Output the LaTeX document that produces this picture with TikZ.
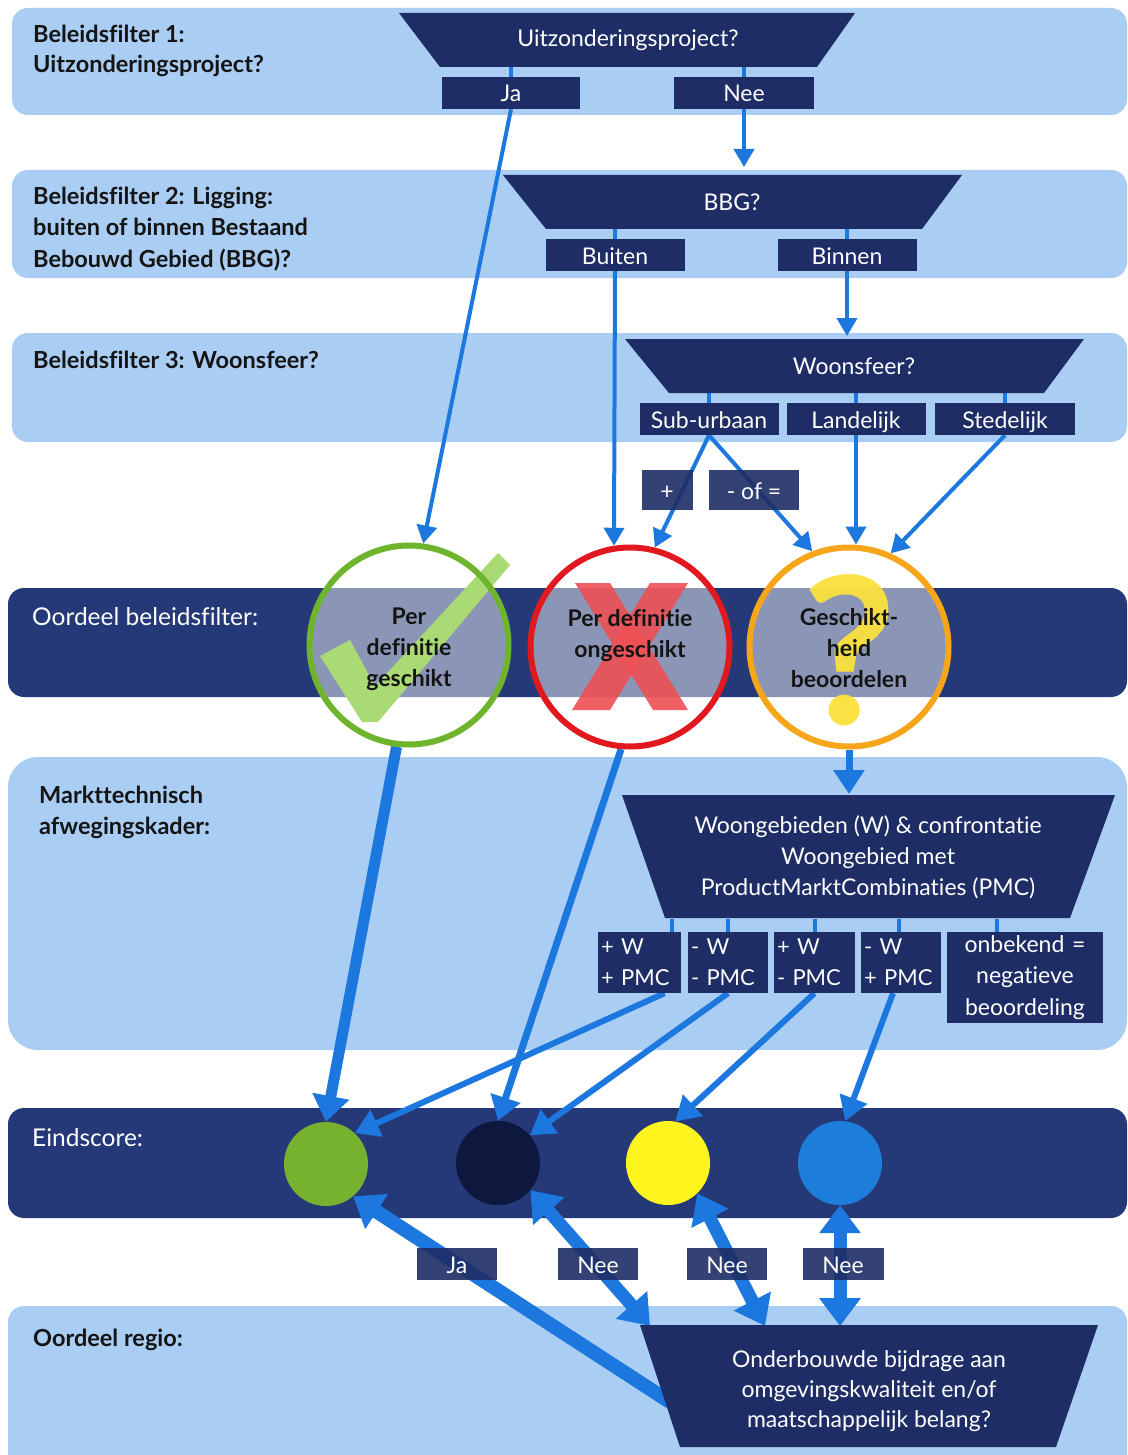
\documentclass[tikz,border=0pt]{standalone}
\usepackage{fontspec}
\setmainfont{Lato}[Ligatures=CommonOff]
\usetikzlibrary{arrows.meta}
\pgfdeclarelayer{bands}
\pgfdeclarelayer{arrows}
\pgfsetlayers{bands,arrows,main}
\definecolor{bandlight}{RGB}{170,205,243}
\definecolor{banddark}{RGB}{37,57,120}
\definecolor{navy}{RGB}{30,45,102}
\definecolor{ablue}{RGB}{28,120,222}
\definecolor{cgreen}{RGB}{110,180,45}
\definecolor{cred}{RGB}{225,25,30}
\definecolor{corange}{RGB}{247,165,25}
\definecolor{chk}{RGB}{170,218,115}
\definecolor{xred}{RGB}{238,80,85}
\definecolor{qyel}{RGB}{250,225,60}
\definecolor{dgreen}{RGB}{118,178,48}
\definecolor{dnavy}{RGB}{14,24,62}
\definecolor{dyellow}{RGB}{255,245,30}
\definecolor{dblue}{RGB}{28,126,218}
\definecolor{txt}{RGB}{20,20,20}
\begin{document}
\begin{tikzpicture}[x=1pt,y=-1pt,
  lbl/.style={anchor=base west, inner sep=0pt, font=\bfseries\fontsize{23.5}{30}\selectfont, text=txt},
  wlbl/.style={anchor=base west, inner sep=0pt, font=\fontsize{24.5}{30}\selectfont, text=white},
  ttext/.style={text=white, font=\fontsize{23}{31}\selectfont, align=center, inner sep=0pt, minimum width=300pt},
  lbox/.style={fill=navy, text=white, font=\fontsize{23}{31}\selectfont, inner sep=0pt, minimum height=32pt, text height=18pt, text depth=0pt},
  seethru/.style={fill opacity=0.9, text opacity=1},
  mbox/.style={fill=navy, text=white, font=\fontsize{22}{31}\selectfont, inner xsep=3pt, inner ysep=0pt, minimum height=61pt, align=left},
  stub/.style={ablue, line width=4pt},
  arrt/.style={ablue, line width=4pt, -{Triangle[length=18pt,width=20pt]}},
  arrm/.style={ablue, line width=6pt, -{Triangle[length=24pt,width=28pt]}},
  arrg/.style={ablue, line width=11pt, -{Triangle[length=26pt,width=36pt]}},
  arrr/.style={ablue, line width=7pt, -{Triangle[length=24pt,width=30pt]}},
  arrk/.style={ablue, line width=14pt, -{Triangle[length=28pt,width=40pt]}},
  darr/.style={ablue, line width=13pt, {Triangle[length=28pt,width=40pt]}-{Triangle[length=28pt,width=40pt]}},
  ring/.style={circle, minimum size=199pt, line width=6pt, inner sep=0pt},
  ctext/.style={align=center, text=txt, inner sep=0pt, font=\bfseries\fontsize{23}{31}\selectfont},
  dot/.style={circle, minimum size=84pt, inner sep=0pt},
]
\useasboundingbox (0,0) rectangle (1127,1455);
% bands
\begin{pgfonlayer}{bands}
\fill[white] (0,0) rectangle (1127,1455);
\fill[bandlight, rounded corners=16pt] (12,8) rectangle (1127,115);
\fill[bandlight, rounded corners=16pt] (12,170) rectangle (1127,278);
\fill[bandlight, rounded corners=16pt] (12,333) rectangle (1127,442);
\fill[banddark, rounded corners=16pt] (8,588) rectangle (1127,697);
\fill[bandlight, rounded corners=30pt] (8,757) rectangle (1127,1050);
\fill[banddark, rounded corners=16pt] (8,1108) rectangle (1127,1218);
\fill[bandlight, rounded corners=16pt] (8,1306) rectangle (1127,1480);
\end{pgfonlayer}

% left labels
\node[lbl] (l1a) at (33,43) {Beleidsfilter 1:};
\node[lbl] (l1b) at (33,73) {Uitzonderingsproject?};
\node[lbl] (l2a) at (33,205) {Beleidsfilter 2: Ligging:};
\node[lbl] (l2b) at (33,236) {buiten of binnen Bestaand};
\node[lbl] (l2c) at (33,267) {Bebouwd Gebied (BBG)?};
\node[lbl] (l3a) at (33,368) {Beleidsfilter 3: Woonsfeer?};
\node[wlbl] (l4) at (32,625) {Oordeel beleidsfilter:};
\node[lbl] (l5a) at (39,803) {Markttechnisch};
\node[lbl] (l5b) at (39,834) {afwegingskader:};
\node[wlbl] (l6) at (32,1146) {Eindscore:};
\node[lbl] (l7) at (33,1346) {Oordeel regio:};

% trapezoids
\fill[navy] (399,13) -- (855,13) -- (817,67) -- (440,67) -- cycle;
\node[ttext, minimum height=54pt] (t1) at (628,40) {Uitzonderingsproject?};
\fill[navy] (503,175) -- (962,175) -- (922,229) -- (546,229) -- cycle;
\node[ttext, minimum height=54pt] (t2) at (732,202) {BBG?};
\fill[navy] (625,339) -- (1084,339) -- (1044,393) -- (669,393) -- cycle;
\node[ttext, minimum height=54pt] (t3) at (854,366) {Woonsfeer?};
\fill[navy] (622,795) -- (1115,795) -- (1070,918) -- (665,918) -- cycle;
\node[ttext, minimum height=123pt] (t4) at (868,857) {Woongebieden (W) \& confrontatie\\Woongebied met\\ProductMarktCombinaties (PMC)};
\fill[navy] (640,1325) -- (1098,1325) -- (1056,1447) -- (680,1447) -- cycle;
\node[ttext, font=\fontsize{23}{30}\selectfont] (t5) at (869,1391) {Onderbouwde bijdrage aan\\omgevingskwaliteit en/of\\maatschappelijk belang?};

% answer boxes
\node[lbox, minimum width=138pt] (ja1) at (511,93) {Ja};
\node[lbox, minimum width=140pt] (nee1) at (744,93) {Nee};
\node[lbox, minimum width=139pt] (buiten) at (615,255) {Buiten};
\node[lbox, minimum width=139pt] (binnen) at (847,255) {Binnen};
\node[lbox, minimum width=139pt] (sub) at (709,419) {Sub-urbaan};
\node[lbox, minimum width=139pt] (land) at (856,419) {Landelijk};
\node[lbox, minimum width=140pt] (sted) at (1005,419) {Stedelijk};
\node[lbox, seethru, minimum width=51pt, minimum height=40pt] (plus) at (667,490) {+};
\node[lbox, seethru, minimum width=90pt, minimum height=40pt] (minof) at (754,490) {- of =};

\node[mbox, text width=77pt] (b1) at (639.5,962.5) {+ W\\+ PMC};
\node[mbox, text width=74pt] (b2) at (728,962.5) {- W\\- PMC};
\node[mbox, text width=75pt] (b3) at (814.5,962.5) {+ W\\- PMC};
\node[mbox, text width=74pt] (b4) at (901,962.5) {- W\\+ PMC};
\node[mbox, align=center, text width=150pt, minimum height=91pt, font=\fontsize{23}{31.5}\selectfont] (b5) at (1025,977.5) {onbekend =\\negatieve\\beoordeling};

\node[lbox, seethru, minimum width=80pt] (bja) at (457,1264) {Ja};
\node[lbox, seethru, minimum width=80pt] (bnee1) at (598,1264) {Nee};
\node[lbox, seethru, minimum width=80pt] (bnee2) at (727,1264) {Nee};
\node[lbox, seethru, minimum width=81pt] (bnee3) at (843,1264) {Nee};

% judgement circles
\fill[white, fill opacity=0.47] (409,645) circle[radius=99pt];
\fill[chk] (320,656) -- (350,640) -- (375,686) -- (498,553) -- (510,565) -- (378,722) -- (362,722) -- cycle;
\node[ring, draw=cgreen] (gc) at (409,645) {};
\node[ctext] (gct) at (409,649) {Per\\definitie\\geschikt};

\fill[white, fill opacity=0.47] (630,647) circle[radius=99pt];
\fill[xred, fill opacity=0.9] (575,583) -- (610,583) -- (688,710) -- (653,710) -- cycle;
\fill[xred, fill opacity=0.9] (650,583) -- (688,583) -- (610,710) -- (572,710) -- cycle;
\node[ring, draw=cred] (rc) at (630,647) {};
\node[ctext] (rct) at (630,636) {Per definitie\\ongeschikt};

\fill[white, fill opacity=0.47] (849,647) circle[radius=99pt];
\node[text=qyel, text opacity=0.95, inner sep=0pt, font=\bfseries\fontsize{205}{205}\selectfont] (qm) at (850,650) {?};
\node[ring, draw=corange] (oc) at (849,647) {};
\node[ctext] (oct) at (849,648) {Geschikt-\\heid\\beoordelen};

% score dots
\node[dot, fill=dgreen] (gd) at (326,1164) {};
\node[dot, fill=dnavy] (nd) at (498,1163) {};
\node[dot, fill=dyellow] (yd) at (668,1163) {};
\node[dot, fill=dblue] (bd) at (840,1163) {};

% free ends
\coordinate (bbgin) at (744,167);
\coordinate (wsin) at (847,336);
\coordinate (t4in) at (849,794);
\coordinate (t5ja) at (670,1402);
\coordinate (t5n1) at (650,1326);
\coordinate (t5n2) at (765,1326);
\coordinate (t5n3) at (840,1326);

\begin{pgfonlayer}{arrows}
% stubs
\draw[stub] (ja1.north) -- (ja1.north |- t1.south);
\draw[stub] (nee1.north) -- (nee1.north |- t1.south);
\draw[stub] (buiten.north) -- (buiten.north |- t2.south);
\draw[stub] (binnen.north) -- (binnen.north |- t2.south);
\draw[stub] (sub.north) -- (sub.north |- t3.south);
\draw[stub] (land.north) -- (land.north |- t3.south);
\draw[stub] (sted.north) -- (sted.north |- t3.south);
\draw[stub] ([xshift=32pt]b1.north) -- ([xshift=32pt]b1.north |- t4.south);
\draw[stub] (b2.north) -- (b2.north |- t4.south);
\draw[stub] (b3.north) -- (b3.north |- t4.south);
\draw[stub] ([xshift=-2pt]b4.north) -- ([xshift=-2pt]b4.north |- t4.south);
\draw[stub] ([xshift=-28pt]b5.north) -- ([xshift=-28pt]b5.north |- t4.south);
% flow arrows
\draw[arrt] (nee1.south) -- (bbgin);
\draw[arrt] (binnen.south) -- (wsin);
\draw[arrt] (ja1.south) -- (gc.82);
\draw[arrt] (buiten.south) -- (rc.99);
\draw[arrt] (sub.south) -- (rc.76);
\draw[arrt] (sub.south) -- (oc.111);
\draw[arrt] (land.south) -- (land.south |- oc.north);
\draw[arrt] (sted.south) -- (oc.66);
\draw[arrr] (oc.south) -- (t4in);
\draw[arrg] (gc.263) -- (gd.north);
\draw[arrr] (rc.265) -- (nd.north);
\draw[arrm] ([xshift=25pt]b1.south) -- (gd.47);
\draw[arrm] (b2.south) -- (nd.41);
\draw[arrm] (b3.south) -- (yd.80);
\draw[arrm] ([xshift=-8pt]b4.south) -- (bd.83);
\draw[arrk] (t5ja) -- (gd.-50);
\draw[darr] (nd.-40) -- (t5n1);
\draw[darr] (yd.-46) -- (t5n2);
\draw[darr] (bd.south) -- (t5n3);
\end{pgfonlayer}
\end{tikzpicture}
\end{document}
